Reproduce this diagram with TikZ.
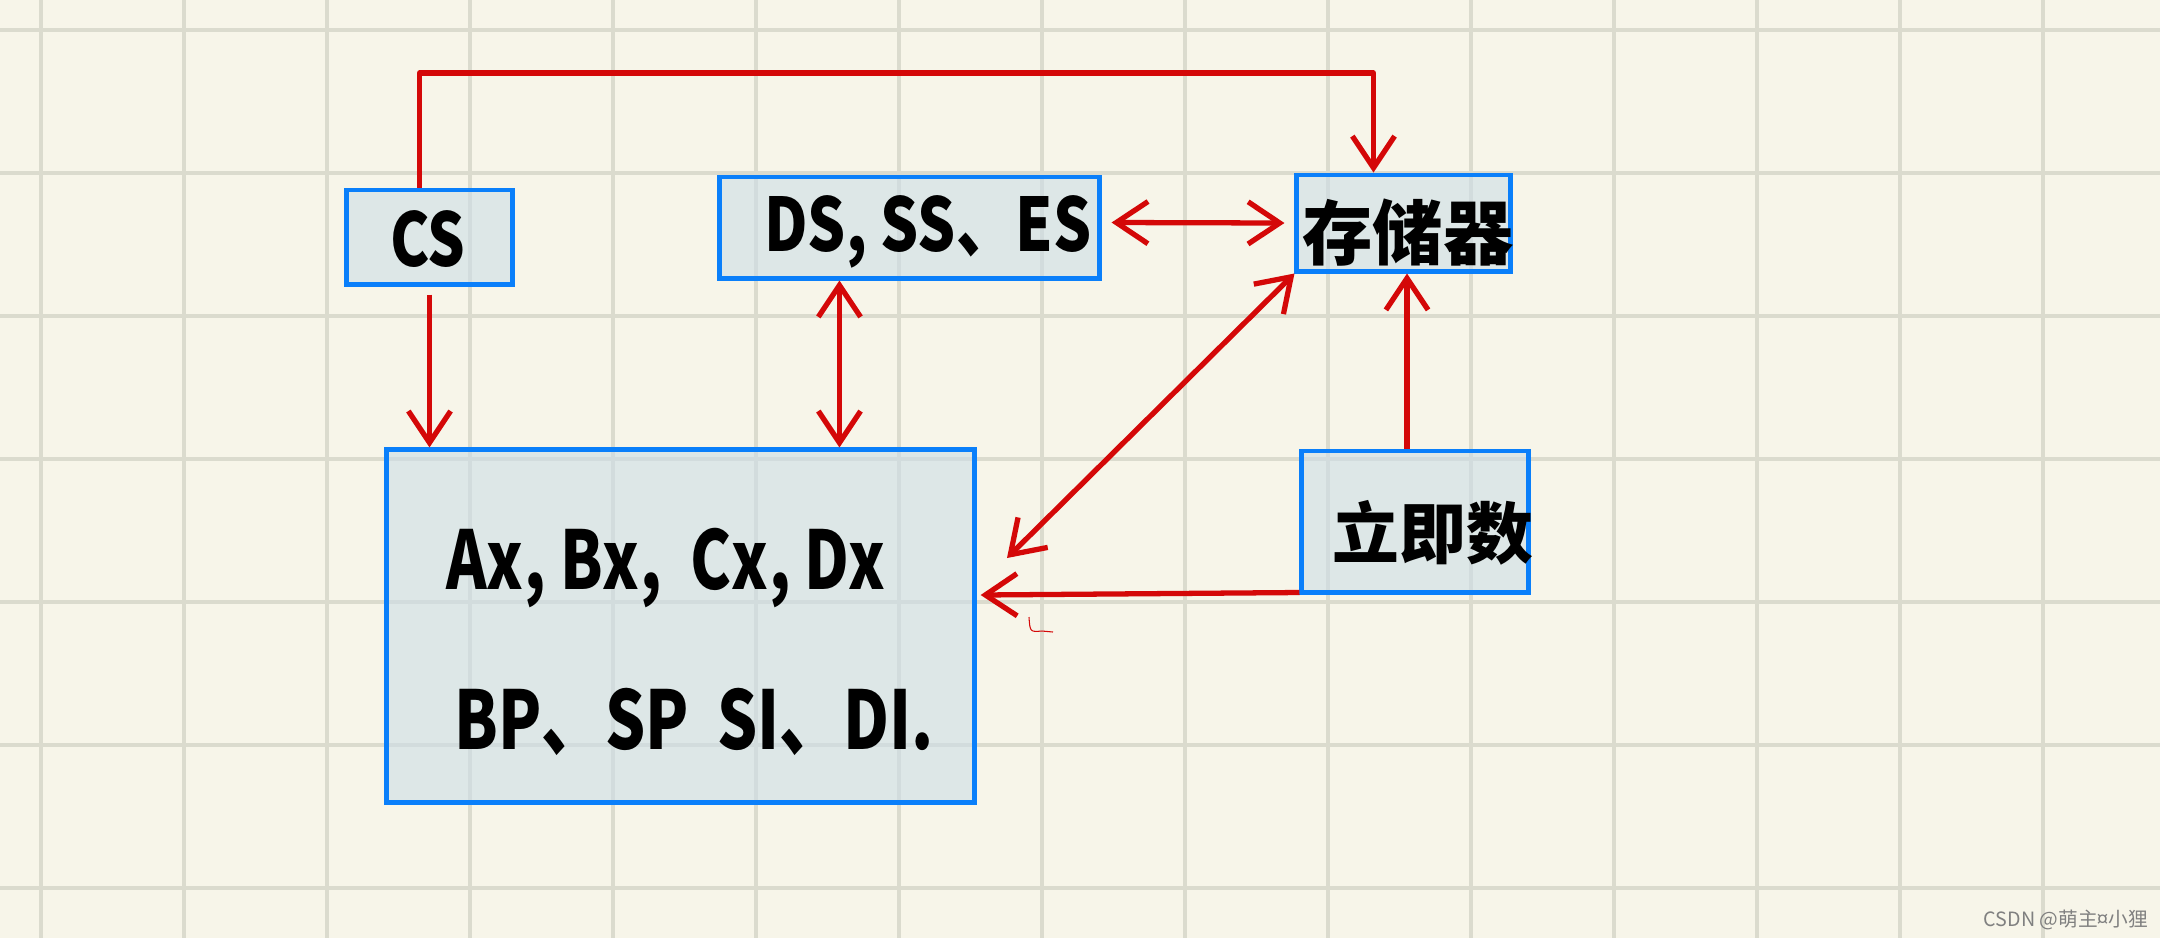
\documentclass[tikz,border=0pt]{standalone}
\usepackage{fontspec}
\usepackage{graphicx}
\setmainfont{Noto Sans CJK SC}
\usetikzlibrary{arrows.meta}
\definecolor{paper}{RGB}{247,245,233}
\definecolor{gridcol}{RGB}{219,219,206}
\definecolor{boxfill}{RGB}{204,222,231}
\definecolor{boxline}{RGB}{10,127,250}
\definecolor{penred}{RGB}{212,8,8}
\newcommand{\squeeze}[2]{\scalebox{#1}[1]{#2}}
\tikzset{
  box/.style={draw=boxline, line width=1.4pt, fill=boxfill, fill opacity=0.6, inner sep=0pt},
  hand/.style={font=\bfseries\fontsize{#1}{#1}\selectfont, inner sep=0pt},
  barb/.tip={Straight Barb[length=9pt,width=12pt]},
  arr/.style={draw=penred, line width=1.5pt, -barb},
  dbl/.style={draw=penred, line width=1.5pt, barb-barb}
}
\begin{document}
\begin{tikzpicture}[x=0.01cm, y=-0.01cm]
        % Paper
        \fill[paper] (0,0) rectangle (2160,938);
        \useasboundingbox (0,0) rectangle (2160,938);
        \foreach \x in {41,184,...,2043} \draw[gridcol, line width=1.2pt] (\x,0)--(\x,938);
        \foreach \y in {30,173,...,888} \draw[gridcol, line width=1.2pt] (0,\y)--(2160,\y);
        
        % Boxes
        \node[box, minimum width=1.65cm, minimum height=0.94cm] (cs) at (429.5,237) {};
        \node[box, minimum width=3.79cm, minimum height=1.01cm] (ds) at (909.5,227.5) {};
        \node[box, minimum width=2.13cm, minimum height=0.96cm] (mem) at (1403.5,223) {};
        \node[box, minimum width=2.26cm, minimum height=1.41cm] (imm) at (1415,521.5) {};
        \node[box, minimum width=5.87cm, minimum height=3.52cm] (reg) at (680.5,626) {};
        
        % Texts
        \node[hand=21pt] (cst) at (428,239) {\squeeze{0.8}{CS}};
        \node[hand=21pt] (dst) at (928,232) {\squeeze{0.81}{DS,\ SS、ES}};
        \node[hand=20pt] (memt) at (1408,233) {存储器};
        \node[hand=19pt] (immt) at (1433,533) {立即数};
        \node[hand=23pt] (regta) at (666,568) {\squeeze{0.76}{Ax, Bx,\ \ Cx, Dx}};
        \node[hand=23pt] (regtb) at (694,722) {\squeeze{0.78}{BP、SP\ \ SI、DI.}};
        \node[font=\fontsize{5.6pt}{5.6pt}\selectfont, text=gray] (mark) at (2066,920) {CSDN @萌主¤小狸};
        
        % Arrows
        \coordinate (top) at (0,73);
        \coordinate (memin) at ([xshift=-3mm]mem.north);
        \coordinate (csout) at ([xshift=-1mm]cs.north);
        \draw[arr, line join=round] (csout) |- (memin |- top) -- (memin);
        \coordinate (csdown) at ([yshift=-0.8mm]cs.south);
        \draw[arr] (csdown) -- (csdown |- reg.north);
        \coordinate (dsin) at ([xshift=-7mm]ds.south);
        \draw[dbl] (dsin) -- (dsin |- reg.north);
        \draw[dbl] ([xshift=1mm,yshift=0.5mm]ds.east) -- ([xshift=-1mm]mem.west);
        \coordinate (diag) at (1007,558);
        \draw[dbl] (mem.south west) -- (diag);
        \coordinate (immup) at ([xshift=-0.8mm]imm.north);
        \draw[arr] (immup) -- (immup |- mem.south);
        \draw[arr] ([yshift=0.2mm]imm.south west) -- ([shift={(4,-31)}]reg.east);
        
        % Stray mark
        \draw[penred, line width=0.3pt] (1029,617) .. controls (1030,632) .. (1042,631) -- (1053,632);
    \end{tikzpicture}
\end{document}
